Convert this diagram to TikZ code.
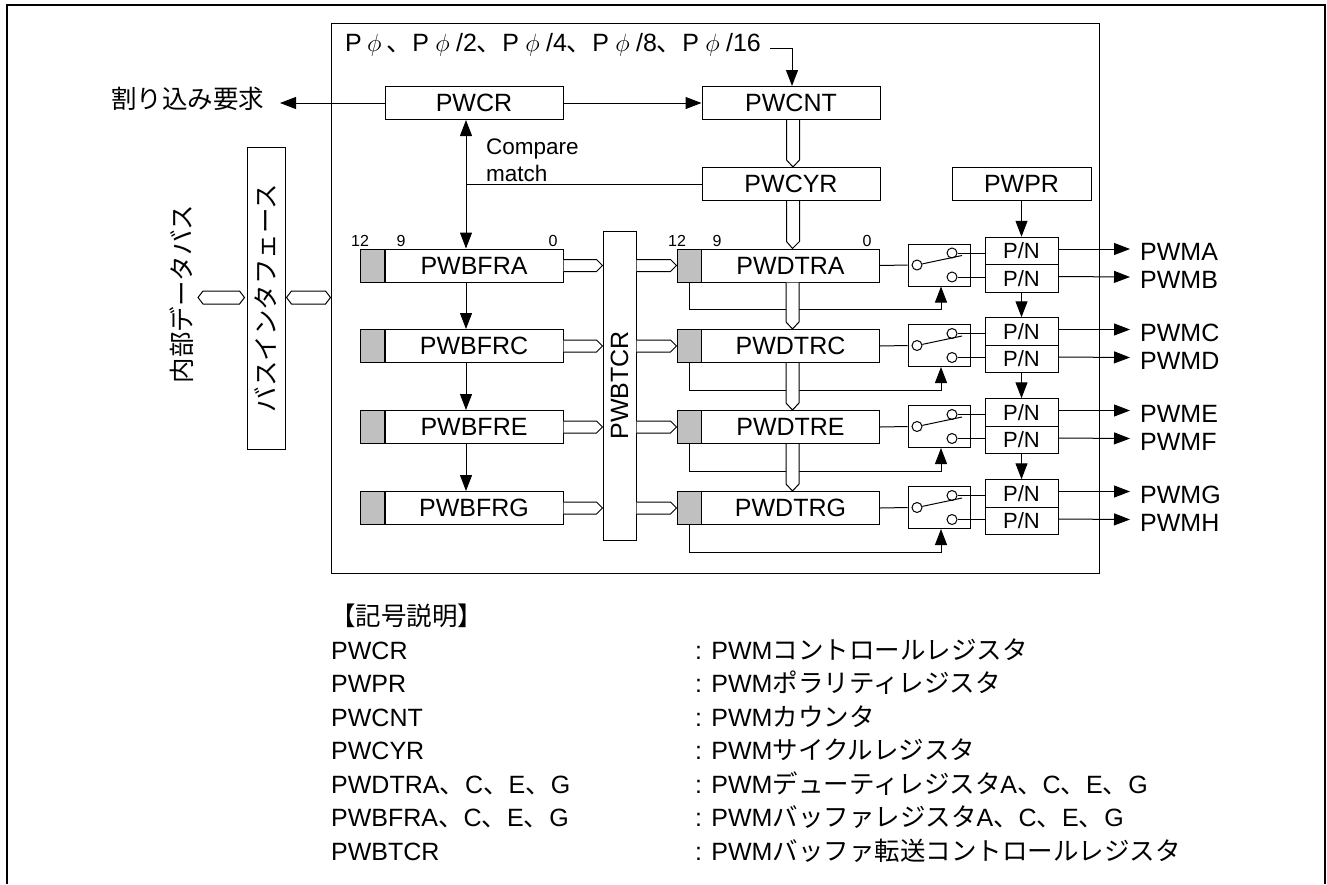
\documentclass[tikz,border=0pt]{standalone}
\usepackage{fontspec}
\setmainfont{Liberation Sans}
\newfontfamily\jpfont[Scale=1.02]{Noto Sans CJK JP}
\newcommand{\jp}[1]{{\jpfont #1}}
\usepackage{xcolor}
\usepackage{tikz}
\usetikzlibrary{arrows.meta, positioning, calc}
\definecolor{bitgrey}{HTML}{C0C0C0}
\tikzset{
  regbox/.style={draw, line width=1pt, inner sep=0pt, minimum width=178, minimum height=33, font=\fontsize{25pt}{27pt}\selectfont},
  bitcell/.style={draw, line width=1pt, fill=bitgrey, inner sep=0pt, minimum width=24, minimum height=33},
  swbox/.style={draw, line width=1pt, inner sep=0pt, minimum width=62, minimum height=42},
  swdot/.style={draw, line width=1pt, fill=white, circle, inner sep=0pt, minimum size=10},
  pnbox/.style={draw, line width=1pt, inner sep=0pt, minimum width=73, minimum height=27.5, font=\fontsize{22pt}{24pt}\selectfont},
  bigtext/.style={inner sep=0pt, font=\fontsize{25pt}{27pt}\selectfont},
  midtext/.style={inner sep=0pt, font=\fontsize{22.5pt}{24pt}\selectfont},
  bittext/.style={inner sep=0pt, font=\fontsize{16pt}{18pt}\selectfont},
  wire/.style={line width=1pt},
  busline/.style={draw, fill=white, line width=1pt},
  >={Triangle[length=16pt,width=12pt]}
}
\begin{document}
\begin{tikzpicture}[x=1pt, y=-1pt]
  \useasboundingbox (0,0) rectangle (1327,884);
  \def\busv#1#2{\draw[busline] ([xshift=-4.5pt]#1.south) -- ([xshift=-4.5pt,yshift=7pt]#1.south |- #2.north) -- ([xshift=2pt]#2.north) -- ([xshift=8.5pt,yshift=7pt]#1.south |- #2.north) -- ([xshift=8.5pt]#1.south);}
  \def\bush#1#2{\draw[busline] ([yshift=6pt]#1) -- ([xshift=-6pt,yshift=6pt]#2) -- (#2) -- ([xshift=-6pt,yshift=-6pt]#2) -- ([yshift=-6pt]#1);}
  \def\bushex#1#2{\draw[busline] (#1) -- ([xshift=5pt,yshift=6.5pt]#1) -- ([xshift=-5pt,yshift=6.5pt]#2) -- (#2) -- ([xshift=-5pt,yshift=-6.5pt]#2) -- ([xshift=5pt,yshift=-6.5pt]#1) -- cycle;}
  \def\legrow#1#2#3#4{
    \node[bigtext, anchor=base west] (#1key) at (331,#2) {#3};
    \node[bigtext, anchor=base west] (#1val) at (695,#2) {: PWM#4};
  }

  % page frame, open at the foot
  \draw[line width=2pt] (7,884) -- (7,5) -- (1325,5) -- (1325,884);
  \node[draw, line width=1pt, minimum width=768, minimum height=550, inner sep=0pt] (pwmain) at (715,298) {};

  \node[regbox] (pwcr) at (474,103) {PWCR};
  \node[regbox] (pwcnt) at (791,103) {PWCNT};
  \node[regbox] (pwcyr) at (791,184) {PWCYR};
  \node[regbox, minimum width=139] (pwpr) at (1021.5,184) {PWPR};
  \node[regbox, rotate=90, minimum width=309, minimum height=33] (pwbtcr) at (619.5,385.5) {PWBTCR};
  \node[regbox, rotate=90, minimum width=302, minimum height=38] (pwbif) at (266,298) {\jp{バスインタフェース}};
  \node[bigtext, rotate=90] (pwbus) at (182,294) {\jp{内部データバス}};
  \node[bigtext, anchor=west] (pwirq) at (111,99) {\jp{割り込み要求}};
  \node[bigtext, anchor=west] (pwclk) at (345,45) {P\makebox[25pt]{$\phi$}\jp{、}P\makebox[27pt]{$\phi$}/2\jp{、}P\makebox[27pt]{$\phi$}/4\jp{、}P\makebox[27pt]{$\phi$}/8\jp{、}P\makebox[27pt]{$\phi$}/16};
  \node[midtext, anchor=base west] (pwcmp) at (486,154) {Compare};
  \node[midtext, anchor=base west] (pwmat) at (486,181) {match};

  \foreach \r/\s/\y in {A/B/265.5, C/D/346, E/F/427, G/H/508} {
    \node[bitcell] (bfbit\r) at (372.5,\y) {};
    \node[regbox] (pwbfr\r) at (474,\y) {PWBFR\r};
    \node[bitcell] (dtbit\r) at (689,\y) {};
    \node[regbox] (pwdtr\r) at (790.5,\y) {PWDTR\r};
    \node[swbox] (sw\r) at (939,\y-0.5) {};
    \node[swdot] (swin\r) at (917,\y-0.5) {};
    \node[swdot] (swup\r) at (952,\y-12.5) {};
    \node[swdot] (swdn\r) at (952,\y+11.5) {};
    \coordinate (swend\r) at (962,\y-10);
    \node[pnbox] (pn\r) at (1021.5,\y-14.5) {P/N};
    \node[pnbox] (pn\s) at (1021.5,\y+13) {P/N};
    \node[bigtext, anchor=west, inner xsep=10pt] (pwm\r) at (1130,\y-13.5) {PWM\r};
    \node[bigtext, anchor=west, inner xsep=10pt] (pwm\s) at (1130,\y+14.5) {PWM\s};
    \coordinate (tcin\r) at (pwbfr\r.east -| pwbtcr.north);
    \coordinate (tcout\r) at (pwbfr\r.east -| pwbtcr.south);
    \draw[wire] (pwdtr\r.east) -- (sw\r.west);
    \draw[wire] (swin\r) -- (swend\r);
    \draw[wire] (swup\r) -- (swup\r -| pn\r.west);
    \draw[wire] (swdn\r) -- (swdn\r -| pn\s.west);
    \draw[wire, ->] ([yshift=2pt]pn\r.east) -- ([yshift=3pt]pwm\r.west);
    \draw[wire, ->] ([yshift=2pt]pn\s.east) -- ([yshift=3pt]pwm\s.west);
    \draw[wire, ->] (dtbit\r.south) -- ++(0,27) -| ([xshift=2pt]sw\r.south);
    \bush{pwbfr\r.east}{tcin\r}
    \bush{tcout\r}{dtbit\r.west}
  }

  % bit numbers over the top row
  \node[bittext] (bfb12) at (360,241) {12};
  \node[bittext] (bfb9) at (401,241) {9};
  \node[bittext] (bfb0) at (553,241) {0};
  \node[bittext] (dtb12) at (677,241) {12};
  \node[bittext] (dtb9) at (717,241) {9};
  \node[bittext] (dtb0) at (867,241) {0};

  \coordinate (ctlx) at ([xshift=-8pt]pwcr.south);
  \coordinate (irqend) at (280,103);
  \coordinate (clkin) at (770,48);
  \coordinate (busleft) at (198,297.5);
  \draw[wire, ->] (pwcr.west) -- (irqend);
  \draw[wire, ->] (pwcr.east) -- (pwcnt.west);
  \draw[wire, ->] (clkin) -| ([xshift=1pt]pwcnt.north);
  \draw[wire, <->] (ctlx) -- (ctlx |- pwbfrA.north);
  \draw[wire] (pwcyr.west) -- (pwcyr.west -| ctlx);
  \draw[wire, ->] (pwpr.south) -- (pnA.north);
  \foreach \a/\b in {A/C, C/E, E/G} {
    \draw[wire, ->] ([xshift=-8pt]pwbfr\a.south) -- ([xshift=-8pt]pwbfr\b.north);
    \busv{pwdtr\a}{pwdtr\b}
  }
  \draw[wire, ->] (pnB.south) -- (pnC.north);
  \draw[wire, ->] (pnD.south) -- (pnE.north);
  \draw[wire, ->] (pnF.south) -- (pnG.north);
  \busv{pwcnt}{pwcyr}
  \busv{pwcyr}{pwdtrA}

  \coordinate (ifin) at ([xshift=-2pt]busleft -| pwbif.north);
  \coordinate (ifout) at ([xshift=1pt]busleft -| pwbif.south);
  \coordinate (mainin) at (busleft -| pwmain.west);
  \bushex{busleft}{ifin}
  \bushex{ifout}{mainin}

  % legend
  \node[bigtext, anchor=base west] (legtitle) at (330,625) {\jp{【記号説明】}};
  \legrow{cr}{659}{PWCR}{\jp{コントロールレジスタ}}
  \legrow{pr}{692.5}{PWPR}{\jp{ポラリティレジスタ}}
  \legrow{cnt}{726}{PWCNT}{\jp{カウンタ}}
  \legrow{cyr}{759.5}{PWCYR}{\jp{サイクルレジスタ}}
  \legrow{dtr}{793}{PWDTRA\jp{、}C\jp{、}E\jp{、}G}{\jp{デューティレジスタ}A\jp{、}C\jp{、}E\jp{、}G}
  \legrow{bfr}{826.5}{PWBFRA\jp{、}C\jp{、}E\jp{、}G}{\jp{バッファレジスタ}A\jp{、}C\jp{、}E\jp{、}G}
  \legrow{btc}{860}{PWBTCR}{\jp{バッファ転送コントロールレジスタ}}
\end{tikzpicture}
\end{document}
